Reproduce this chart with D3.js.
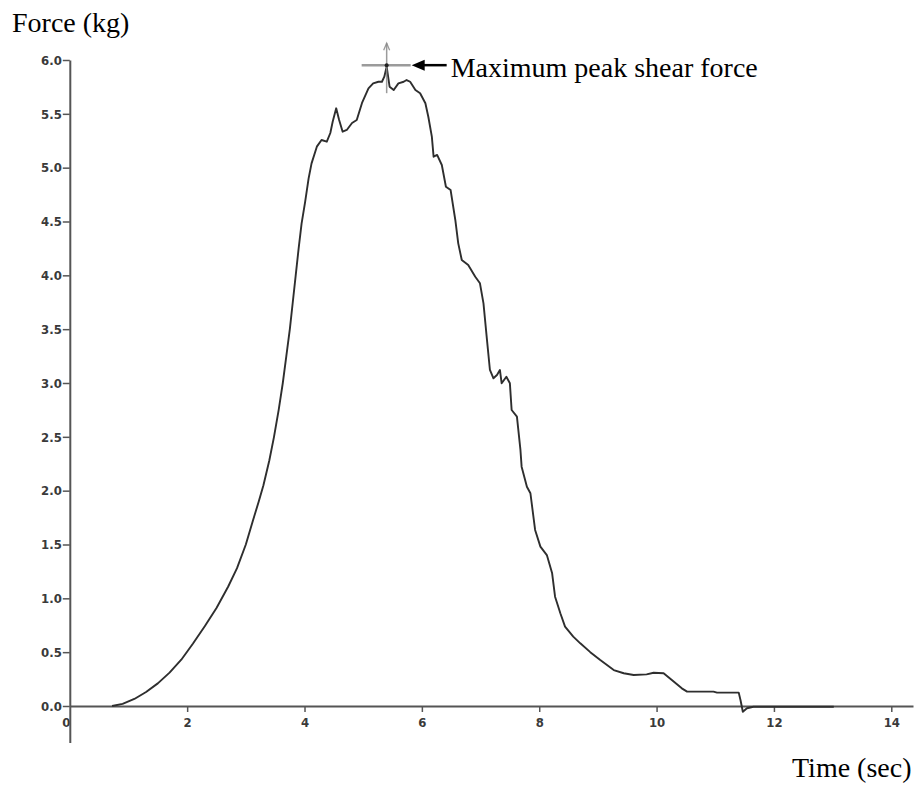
<!DOCTYPE html>
<html>
<head>
<meta charset="utf-8">
<script src="https://cdn.jsdelivr.net/npm/d3@7/dist/d3.min.js"></script>
<style>
  html, body { margin: 0; padding: 0; background: #fff; }
  svg { display: block; }
  .tick text { font-family: "Liberation Sans Narrow", "DejaVu Sans Condensed", "DejaVu Sans", sans-serif; font-stretch: condensed; font-weight: bold; font-size: 13px; fill: #3a3a3a; }
  .title { font-family: "Liberation Serif", "Times New Roman", serif; font-size: 28px; fill: #000; }
</style>
</head>
<body>
<svg id="chart" width="924" height="789"></svg>
<script>
// Shear test trace: time (s) vs force (kg)
const timeSec = [
  0.72, 0.90, 1.10, 1.30, 1.50, 1.70, 1.90, 2.10, 2.30, 2.50, 2.70, 2.85, 3.00, 3.12, 3.22, 3.30,
  3.40, 3.48, 3.56, 3.63, 3.69, 3.75, 3.80, 3.85, 3.90, 3.95, 4.01, 4.07, 4.12,
  4.21, 4.29, 4.38, 4.44, 4.48, 4.54, 4.59, 4.65, 4.72, 4.81, 4.89, 4.98,
  5.09, 5.17, 5.26, 5.32, 5.36, 5.40, 5.45, 5.52, 5.60, 5.69, 5.74, 5.80, 5.89, 5.97, 6.06, 6.11,
  6.17, 6.20, 6.26, 6.34, 6.41, 6.49, 6.57, 6.62, 6.68, 6.79, 6.91, 6.99, 7.05, 7.11, 7.16, 7.22,
  7.28, 7.33, 7.36, 7.44, 7.50, 7.53, 7.62, 7.68, 7.70, 7.79, 7.85, 7.93, 8.02, 8.13, 8.22, 8.27,
  8.36, 8.44, 8.58, 8.70, 8.87, 9.04, 9.27, 9.44, 9.61, 9.83, 9.95, 10.12, 10.26, 10.43, 10.52, 10.97,
  11.03, 11.40, 11.43, 11.47, 11.54, 11.65, 13.02
];
const forceKg = [
  0.00, 0.02, 0.065, 0.13, 0.21, 0.31, 0.43, 0.58, 0.74, 0.91, 1.11, 1.28, 1.50, 1.72, 1.90, 2.05,
  2.28, 2.50, 2.75, 3.00, 3.25, 3.50, 3.75, 4.00, 4.25, 4.48, 4.68, 4.90, 5.04,
  5.195, 5.257, 5.241, 5.322, 5.427, 5.551, 5.443, 5.334, 5.35, 5.415, 5.443, 5.601,
  5.737, 5.783, 5.798, 5.798, 5.845, 5.938, 5.752, 5.721, 5.783, 5.798, 5.814, 5.798, 5.721, 5.691, 5.598, 5.473,
  5.288, 5.102, 5.118, 5.025, 4.823, 4.792, 4.514, 4.297, 4.142, 4.096, 3.987, 3.926, 3.740, 3.399, 3.121, 3.044,
  3.074, 3.121, 2.997, 3.058, 2.997, 2.749, 2.687, 2.378, 2.223, 2.037, 1.976, 1.635, 1.480, 1.402, 1.232, 1.015,
  0.861, 0.737, 0.644, 0.582, 0.50, 0.427, 0.334, 0.304, 0.288, 0.294, 0.309, 0.304, 0.241, 0.164, 0.133, 0.133,
  0.124, 0.124, 0.056, -0.053, -0.021, -0.007, -0.007
];
const xTicks = [0, 2, 4, 6, 8, 10, 12, 14];
const yTicks = [0.0, 0.5, 1.0, 1.5, 2.0, 2.5, 3.0, 3.5, 4.0, 4.5, 5.0, 5.5, 6.0];
const yTitle = "Force (kg)";
const xTitle = "Time (sec)";
const peakNote = "Maximum peak shear force";

const points = timeSec.map((t, i) => ({ t, f: forceKg[i] }));

const svg = d3.select("#chart");
const x = d3.scaleLinear().domain([0, 14.37]).range([69.8, 913]);
const y = d3.scaleLinear().domain([-0.34, 6]).range([742.6, 60]);

// Axes
const xAxis = svg.append("g")
  .attr("transform", `translate(0,${y(0)})`)
  .call(d3.axisBottom(x).tickValues(xTicks).tickSize(6).tickSizeOuter(0).tickPadding(6).tickFormat(d3.format("d")));
xAxis.select(".domain").attr("stroke", "#555").attr("stroke-width", 2);
xAxis.selectAll(".tick line").attr("stroke", "#555").attr("stroke-width", 1.5)
  .filter(d => d === 0).remove();
xAxis.selectAll(".tick text").filter(d => d === 0).attr("x", -4);

const yAxis = svg.append("g")
  .attr("transform", `translate(${x(0)},0)`)
  .call(d3.axisLeft(y).tickValues(yTicks).tickSize(7).tickSizeOuter(0).tickPadding(1).tickFormat(d3.format(".1f")));
yAxis.select(".domain").attr("stroke", "#555").attr("stroke-width", 2);
yAxis.selectAll(".tick line").attr("stroke", "#555").attr("stroke-width", 1.5);

// Force curve
svg.append("path")
  .datum(points)
  .attr("fill", "none")
  .attr("stroke", "#2e2e2e")
  .attr("stroke-width", 1.9)
  .attr("stroke-linejoin", "round")
  .attr("d", d3.line().x(d => x(d.t)).y(d => y(d.f)));

// Peak marker (crosshair) at the maximum force
const peak = points.reduce((a, b) => (b.f > a.f ? b : a));
const px = x(peak.t), py = y(peak.f) - 1.5;
const marker = svg.append("g").attr("stroke", "#8a8a8a").attr("stroke-opacity", 0.85).attr("fill", "none");
marker.append("line").attr("x1", px - 25).attr("x2", px + 24).attr("y1", py).attr("y2", py).attr("stroke-width", 2.5);
marker.append("line").attr("x1", px).attr("x2", px).attr("y1", py - 22).attr("y2", py + 28).attr("stroke-width", 1.5);
marker.append("path").attr("d", `M${px - 3},${py - 15}L${px},${py - 22}L${px + 3},${py - 15}`).attr("stroke-width", 1.3);
svg.append("circle").attr("cx", px).attr("cy", py).attr("r", 2).attr("fill", "#222");

// Callout arrow and note
const tipX = px + 25, tailX = px + 60;
svg.append("line").attr("x1", tipX + 10).attr("x2", tailX).attr("y1", py).attr("y2", py)
  .attr("stroke", "#000").attr("stroke-width", 2.5);
svg.append("path").attr("d", `M${tipX},${py}L${tipX + 13},${py - 5.5}L${tipX + 13},${py + 5.5}Z`).attr("fill", "#000");
svg.append("text").attr("class", "title").attr("x", tailX + 4).attr("y", py + 11.5).text(peakNote);

// Axis titles
svg.append("text").attr("class", "title").attr("x", 12).attr("y", 32).text(yTitle);
svg.append("text").attr("class", "title").attr("x", 792).attr("y", 777).text(xTitle);
</script>
</body>
</html>
